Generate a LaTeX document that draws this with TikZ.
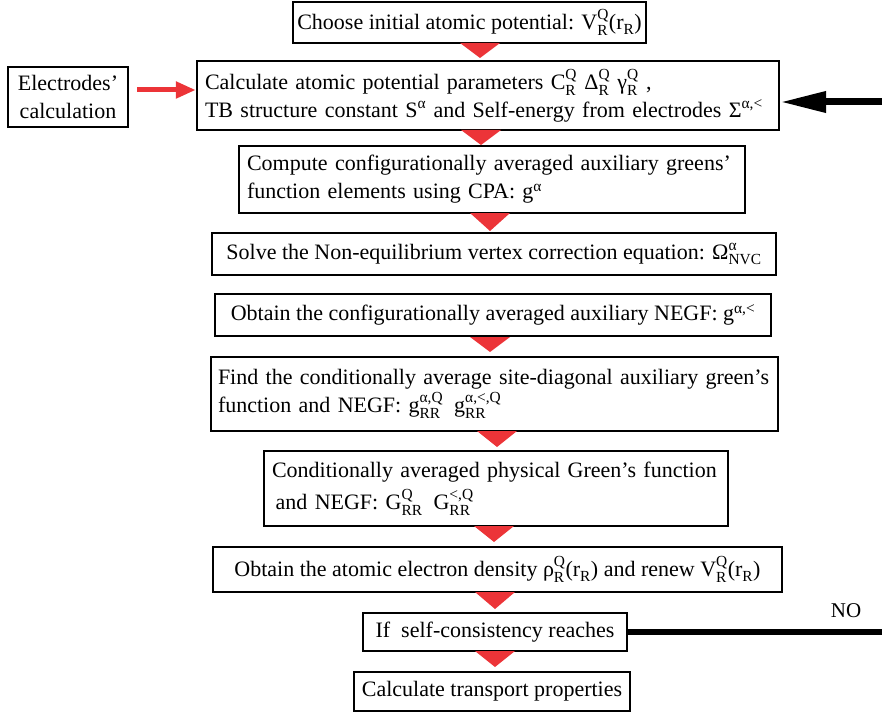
\documentclass[tikz,border=0pt]{standalone}
\usepackage{fontspec}
\usepackage{amsmath}
\setmainfont{Liberation Serif}
\usetikzlibrary{arrows.meta}
\definecolor{redc}{RGB}{236,52,56}
\newcommand{\mm}[3]{$\text{#1}^{\text{#2}}_{\text{#3}}$}
\newcommand{\rr}{$\text{(r}_{\text{R}}\text{)}$}
\newcommand{\tri}[3]{\fill[redc] ({#1-20},#2) -- ({#1+20},#2) -- (#1,#3) -- cycle;}
\tikzset{
  box/.style={draw, line width=2.4pt, inner xsep=8pt, inner ysep=0pt, font=\fontsize{22}{28}\selectfont},
  lbox/.style={box, align=left},
  cbox/.style={box, align=center},
}
\begin{document}
\begin{tikzpicture}[x=1pt,y=-1pt]
\useasboundingbox (0,0) rectangle (882,722);

\node[cbox, inner xsep=4pt, minimum width=353, minimum height=41] (b1) at (469.5,22.5)
  {Choose initial atomic potential: \mm{V}{Q}{R}\rr};
\node[lbox, text width=566, minimum height=69] (b2) at (488,95.5)
  {Calculate atomic potential parameters \mm{C}{Q}{R} \mm{Δ}{Q}{R} \mm{γ}{Q}{R} ,\\
   TB structure constant $\text{S}^{\text{α}}$ and Self-energy from electrodes $\text{Σ}^{\text{α,<}}$};
\node[cbox, text width=108, inner xsep=6pt, minimum height=60] (el) at (68,97)
  {Electrodes’\\calculation};
\node[lbox, text width=490, minimum height=67] (b3) at (492,179.5)
  {Compute configurationally averaged auxiliary greens’\\
   function elements using CPA: $\text{g}^{\text{α}}$};
\node[cbox, minimum width=564, minimum height=42] (b4) at (494,254)
  {Solve the Non-equilibrium vertex correction equation: \mm{Ω}{α}{NVC}};
\node[cbox, minimum width=556, minimum height=42] (b5) at (493,315)
  {Obtain the configurationally averaged auxiliary NEGF: $\text{g}^{\text{α,<}}$};
\node[lbox, text width=553, inner xsep=7pt, minimum height=74] (b6) at (494.5,394)
  {Find the conditionally average site-diagonal auxiliary green’s\\
   function and NEGF: \mm{g}{α,Q}{RR}\enspace\mm{g}{α,<,Q}{RR}};
\node[lbox, text width=448, minimum height=75, font=\fontsize{22}{32}\selectfont] (b7) at (496,488.5)
  {Conditionally averaged physical Green’s function\\
   \,and NEGF: \mm{G}{Q}{RR}\enspace\mm{G}{<,Q}{RR}};
\node[cbox, minimum width=569, minimum height=45] (b8) at (497.5,569.5)
  {Obtain the atomic electron density \mm{ρ}{Q}{R}\rr{} and renew \mm{V}{Q}{R}\rr};
\node[cbox, minimum width=264, minimum height=38] (b9) at (495,632)
  {If\ \ self-consistency reaches};
\node[cbox, minimum width=274, minimum height=39] (b10) at (492,691.5)
  {Calculate transport properties};

% red downward arrowheads between steps
\tri{480}{43}{58}
\tri{481}{130}{145}
\tri{490}{213}{231}
\tri{490}{337}{352}
\tri{497}{431}{447}
\tri{494}{526}{542}
\tri{495}{592}{609}
\tri{495}{651}{667}

% electrodes arrow
\draw[redc, line width=5pt, -{Triangle[length=20pt,width=16pt]}] (el.east) ++(8,-7) coordinate (ea) (ea) -- (b2.west |- ea);

% feedback
\coordinate (fin) at (882,102);
\draw[line width=7pt, -{Triangle[length=46pt,width=20pt]}] (fin) -- (b2.east |- fin);
\coordinate (fout) at (882,632);
\draw[line width=6pt] (b9.east) -- (fout);
\node[font=\fontsize{21}{24}\selectfont] (no) at (846,611) {NO};
\end{tikzpicture}
\end{document}
